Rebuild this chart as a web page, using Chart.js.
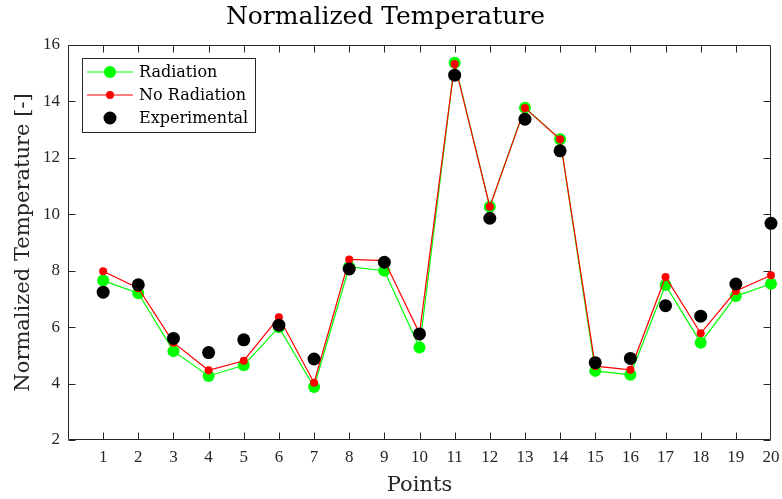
<!DOCTYPE html>
<html><head><meta charset="utf-8">
<script src="https://cdn.jsdelivr.net/npm/chart.js@4.4.1/dist/chart.umd.min.js"></script>
<style>html,body{margin:0;padding:0;background:#fff}</style>
</head><body>
<canvas id="c" width="782" height="499"></canvas>
<script>
const points = [1,2,3,4,5,6,7,8,9,10,11,12,13,14,15,16,17,18,19,20];
const radiation    = [7.65,7.20,5.15,4.27,4.65,6.00,3.88,8.14,8.00,5.28,15.37,10.27,13.78,12.66,4.45,4.31,7.49,5.45,7.10,7.54];
const noRadiation  = [7.98,7.38,5.45,4.47,4.81,6.35,4.03,8.40,8.36,5.78,15.33,10.27,13.77,12.66,4.62,4.49,7.78,5.78,7.28,7.84];
const experimental = [7.24,7.50,5.60,5.10,5.55,6.07,4.87,8.06,8.30,5.76,14.93,9.86,13.37,12.25,4.74,4.89,6.76,6.39,7.53,9.68];
const xTickLabels = points.map(String);
const yTickValues = [2,4,6,8,10,12,14,16];

const AX = '#262626';
const SERIF = '"DejaVu Serif", serif';
const DIGITS = '"Liberation Serif", serif';

const toXY = arr => points.map((p, i) => ({x: p, y: arr[i]}));

const boxPlugin = {
  id: 'box',
  beforeDatasetsDraw(chart) {
    const {ctx, chartArea: a, scales: {x, y}} = chart;
    const L = Math.round(a.left) + 0.5, R = Math.round(a.right) - 0.5;
    const T = Math.round(a.top) + 0.5, B = Math.round(a.bottom) - 0.5;
    const tl = 7;
    ctx.save();
    ctx.strokeStyle = AX; ctx.lineWidth = 1;
    ctx.beginPath();
    ctx.rect(L, T, R - L, B - T);
    x.ticks.forEach(t => {
      if (t.value <= 0 || t.value >= 20) return;
      const px = Math.round(x.getPixelForValue(t.value)) + 0.5;
      ctx.moveTo(px, B); ctx.lineTo(px, B - tl);
      ctx.moveTo(px, T); ctx.lineTo(px, T + tl);
    });
    y.ticks.forEach(t => {
      const py = Math.round(y.getPixelForValue(t.value)) + 0.5;
      ctx.moveTo(L, py); ctx.lineTo(L + tl, py);
      ctx.moveTo(R, py); ctx.lineTo(R - tl, py);
    });
    ctx.stroke();
    ctx.restore();
  }
};

const legendPlugin = {
  id: 'mlegend',
  afterDraw(chart) {
    const {ctx, chartArea: a} = chart;
    const bx = a.left + 14, by = a.top + 13, bw = 173, bh = 74;
    ctx.save();
    ctx.fillStyle = '#fff';
    ctx.fillRect(bx, by, bw, bh);
    ctx.strokeStyle = AX; ctx.lineWidth = 1;
    ctx.strokeRect(Math.round(bx) + 0.5, Math.round(by) + 0.5, bw, bh);
    const order = [2, 1, 0];
    order.forEach((di, row) => {
      const ds = chart.data.datasets[di];
      const cy = by + 14 + row * 23;
      if (ds.showLine !== false) {
        ctx.strokeStyle = ds.borderColor; ctx.lineWidth = ds.borderWidth;
        ctx.beginPath(); ctx.moveTo(bx + 5, cy); ctx.lineTo(bx + 51, cy); ctx.stroke();
      }
      ctx.fillStyle = ds.pointBackgroundColor;
      ctx.beginPath(); ctx.arc(bx + 28, cy, ds.pointRadius, 0, Math.PI * 2); ctx.fill();
      ctx.fillStyle = '#000';
      ctx.font = '16px ' + SERIF;
      ctx.textBaseline = 'middle'; ctx.textAlign = 'left';
      ctx.fillText(ds.label, bx + 57, cy + 1);
    });
    ctx.restore();
  }
};

new Chart(document.getElementById('c'), {
  type: 'scatter',
  data: {
    datasets: [
      {label: 'Experimental', data: toXY(experimental), showLine: false,
       pointRadius: 6.5, pointBackgroundColor: '#000', pointBorderWidth: 0,
       borderColor: '#000', backgroundColor: '#000', clip: false},
      {label: 'No Radiation', data: toXY(noRadiation), showLine: true,
       borderColor: '#ff0000', borderWidth: 1.2, pointRadius: 4,
       pointBackgroundColor: '#ff0000', pointBorderWidth: 0, backgroundColor: '#ff0000', clip: false},
      {label: 'Radiation', data: toXY(radiation), showLine: true,
       borderColor: '#00ff00', borderWidth: 1.2, pointRadius: 6,
       pointBackgroundColor: '#00ff00', pointBorderWidth: 0, backgroundColor: '#00ff00', clip: false}
    ]
  },
  options: {
    responsive: false,
    animation: false,
    devicePixelRatio: 1,
    layout: {padding: {left: 0, right: 11, top: 0, bottom: 0}},
    plugins: {
      legend: {display: false},
      tooltip: {enabled: false},
      title: {display: true, text: 'Normalized Temperature', color: '#000',
              font: {family: SERIF, size: 25, weight: 'normal', lineHeight: 1.2},
              padding: {top: 2, bottom: 13}}
    },
    scales: {
      x: {
        type: 'linear', min: 0, max: 20,
        grid: {display: false, drawTicks: false},
        border: {display: false},
        ticks: {stepSize: 1, autoSkip: false, maxRotation: 0, padding: 7, color: AX,
                font: {family: DIGITS, size: 17},
                callback: v => (v >= 1 && v <= 20) ? xTickLabels[v - 1] : ''},
        title: {display: true, text: 'Points', color: AX,
                font: {family: SERIF, size: 21, weight: 'normal', lineHeight: 1.2},
                padding: {top: 0, bottom: 1}},
        afterFit: s => { s.height = 59; s.paddingLeft = 0; s.paddingRight = 0; }
      },
      y: {
        min: 2, max: 16,
        grid: {display: false, drawTicks: false},
        border: {display: false},
        afterBuildTicks: s => { s.ticks = yTickValues.map(v => ({value: v})); },
        ticks: {padding: 8, color: AX, font: {family: DIGITS, size: 17}},
        title: {display: true, text: 'Normalized Temperature [-]', color: AX,
                font: {family: SERIF, size: 21, weight: 'normal', lineHeight: 1.2},
                padding: {top: 11, bottom: 0}},
        afterFit: s => { s.width = 68; s.paddingTop = 0; s.paddingBottom = 0; }
      }
    }
  },
  plugins: [boxPlugin, legendPlugin]
});
</script>
</body></html>
